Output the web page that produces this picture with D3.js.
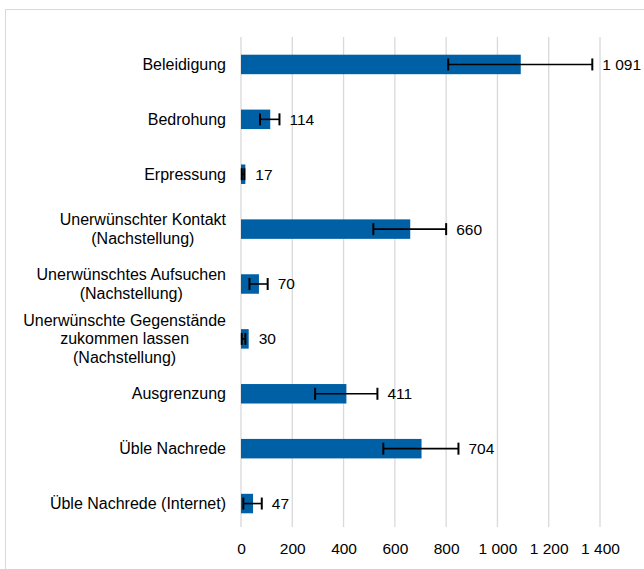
<!DOCTYPE html>
<html>
<head>
<meta charset="utf-8">
<script src="https://cdn.jsdelivr.net/npm/d3@7"></script>
<style>
  html, body { margin: 0; padding: 0; background: #fff; }
  svg { display: block; font-family: "Liberation Sans", Arial, sans-serif; }
</style>
</head>
<body>
<svg id="chart" width="644" height="569"></svg>
<script>
// ---- data ----
const categories = [
  "Beleidigung",
  "Bedrohung",
  "Erpressung",
  "Unerwünschter Kontakt\n(Nachstellung)",
  "Unerwünschtes Aufsuchen\n(Nachstellung)",
  "Unerwünschte Gegenstände\nzukommen lassen\n(Nachstellung)",
  "Ausgrenzung",
  "Üble Nachrede",
  "Üble Nachrede (Internet)"
];
const values  = [1091, 114, 17, 660, 70, 30, 411, 704, 47];
const errLow  = [808, 74, 3, 516, 33, 3, 289, 555, 9];
const errHigh = [1370, 150, 13, 800, 104, 17, 532, 848, 81];
const tickValues = [0, 200, 400, 600, 800, 1000, 1200, 1400];

// ---- layout ----
const svg = d3.select("#chart");
const plot = { left: 241, right: 600, top: 37, bottom: 531, gridBottom: 527 };

const de = d3.formatLocale({ decimal: ",", thousands: " ", grouping: [3], currency: ["", " €"] });
const fmt = de.format(",d");

const x = d3.scaleLinear().domain([0, 1400]).range([plot.left, plot.right]);
const y = d3.scaleBand().domain(d3.range(categories.length))
  .range([plot.top, plot.bottom]).paddingInner(0.645).paddingOuter(0.3225);

// outer chart border
svg.append("rect")
  .attr("x", 5.5).attr("y", 9.5).attr("width", 700).attr("height", 700)
  .attr("fill", "#fff").attr("stroke", "#d9d9d9").attr("stroke-width", 1);

// gridlines
svg.append("g").selectAll("line").data(tickValues).join("line")
  .attr("x1", d => x(d)).attr("x2", d => x(d))
  .attr("y1", plot.top).attr("y2", plot.gridBottom)
  .attr("stroke", "#d9d9d9").attr("stroke-width", 1.3);

// x axis tick labels
const xAxis = d3.axisBottom(x).tickValues(tickValues).tickFormat(fmt).tickSize(0).tickPadding(0);
const gx = svg.append("g").attr("transform", `translate(0, ${plot.gridBottom + 16})`).call(xAxis);
gx.select(".domain").remove();
gx.selectAll("text").attr("font-size", 15.5).attr("fill", "#000")
  .attr("font-family", "'Liberation Sans', Arial, sans-serif").attr("dy", "0.71em");

// bars
const idx = d3.range(categories.length);
svg.append("g").selectAll("rect").data(idx).join("rect")
  .attr("x", x(0))
  .attr("y", i => y(i))
  .attr("width", i => x(values[i]) - x(0))
  .attr("height", y.bandwidth())
  .attr("fill", "#0060A6");

// error bars
const eg = svg.append("g").attr("stroke", "#000");
idx.forEach(i => {
  const cy = y(i) + y.bandwidth() / 2;
  eg.append("line").attr("x1", x(errLow[i])).attr("x2", x(errHigh[i]))
    .attr("y1", cy).attr("y2", cy).attr("stroke-width", 1.6);
  [errLow[i], errHigh[i]].forEach(v => {
    eg.append("line").attr("x1", x(v)).attr("x2", x(v))
      .attr("y1", cy - 6).attr("y2", cy + 6).attr("stroke-width", 2);
  });
});

// value labels
svg.append("g").selectAll("text").data(idx).join("text")
  .attr("x", i => Math.max(x(errHigh[i]), x(values[i])) + 10)
  .attr("y", i => y(i) + y.bandwidth() / 2)
  .attr("dy", "0.35em")
  .attr("font-size", 15.5).attr("fill", "#000")
  .text(i => fmt(values[i]));

// category labels (multi-line, centred lines, block right-aligned)
const labelRight = x(0) - 15;
const lineH = 18.5;
idx.forEach(i => {
  const lines = categories[i].split("\n");
  const cy = y(i) + y.bandwidth() / 2;
  const t = svg.append("text").attr("font-size", 16).attr("fill", "#000")
    .attr("text-anchor", "middle");
  const spans = lines.map((ln, k) => t.append("tspan")
    .attr("y", cy + (k - (lines.length - 1) / 2) * lineH)
    .attr("dy", "0.35em").text(ln));
  const maxW = d3.max(spans, s => s.node().getComputedTextLength());
  spans.forEach(s => s.attr("x", labelRight - maxW / 2));
});
</script>
</body>
</html>
